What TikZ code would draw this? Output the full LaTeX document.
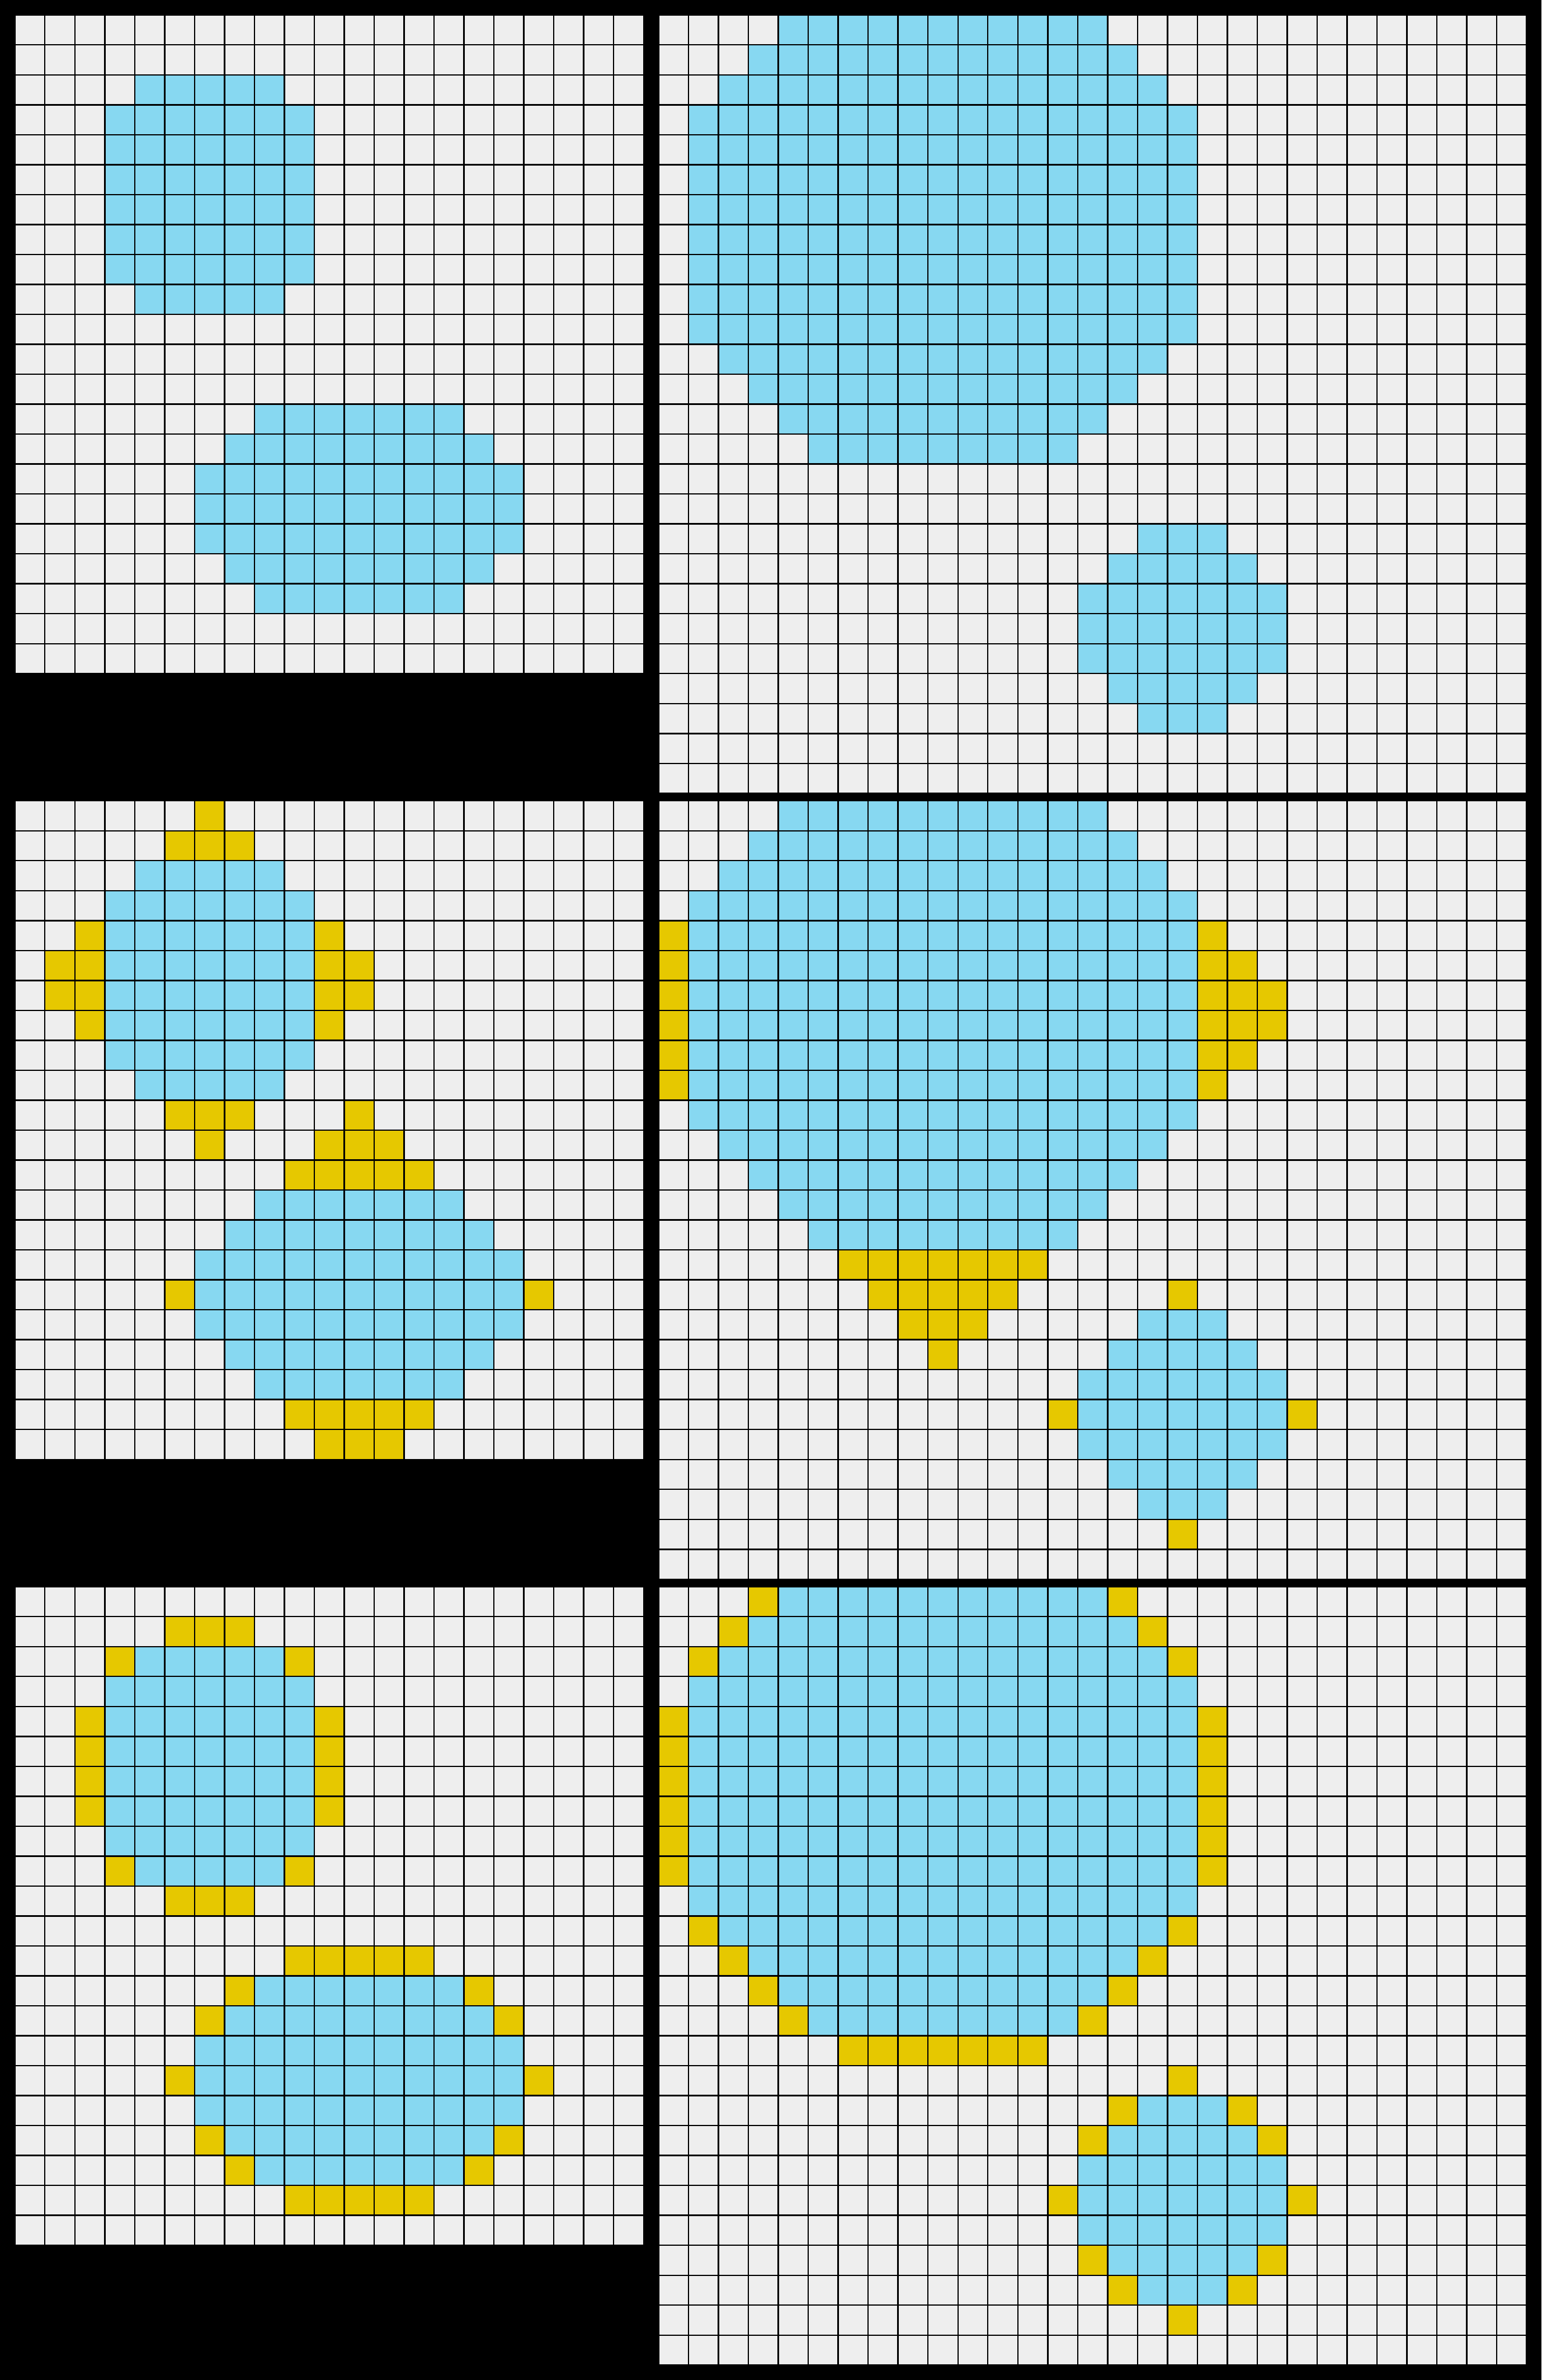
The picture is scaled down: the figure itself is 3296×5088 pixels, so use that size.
\documentclass[tikz,border=0pt]{standalone}
\definecolor{cellbg}{HTML}{EEEEEE}
\definecolor{cblue}{HTML}{87D8F1}
\definecolor{cyel}{HTML}{E6C800}
\tikzset{gline/.style={black,line width=3pt}}
\newcommand{\cellsof}[2]{%
  \foreach \r/\a/\b in {#2} \fill[#1] ({\a*64},{\r*64}) rectangle ({(\b+1)*64},{(\r+1)*64});}
\newcommand{\panelbg}[2]{\fill[cellbg] (0,0) rectangle ({#1*64},{#2*64});}
\newcommand{\panellines}[2]{%
  \foreach \i in {0,...,#1} \draw[gline] ({\i*64},0) -- ({\i*64},{#2*64});
  \foreach \j in {0,...,#2} \draw[gline] (0,{\j*64}) -- ({#1*64},{\j*64});}
\newcommand{\blueA}{2/4/8,3/3/9,4/3/9,5/3/9,6/3/9,7/3/9,8/3/9,9/4/8,13/8/14,14/7/15,15/6/16,16/6/16,17/6/16,18/7/15,19/8/14}
\newcommand{\blueB}{0/4/14,1/3/15,2/2/16,3/1/17,4/1/17,5/1/17,6/1/17,7/1/17,8/1/17,9/1/17,10/1/17,11/2/16,12/3/15,13/4/14,14/5/13,17/16/18,18/15/19,19/14/20,20/14/20,21/14/20,22/15/19,23/16/18}
\begin{document}
\begin{tikzpicture}[x=1pt,y=-1pt]
\useasboundingbox (0,0) rectangle (3296,5088);
\fill[black] (0,0) rectangle (3296,5088);
% ---- pair 1 ----
\begin{scope}[shift={(32,32)}]
  \panelbg{21}{22}
  \expandafter\cellsof\expandafter{\expandafter c\expandafter b\expandafter l\expandafter u\expandafter e\expandafter}\expandafter{\blueA}
  \panellines{21}{22}
\end{scope}
\begin{scope}[shift={(1408,32)}]
  \panelbg{29}{26}
  \foreach \r/\a/\b in \blueB \fill[cblue] ({\a*64},{\r*64}) rectangle ({(\b+1)*64},{(\r+1)*64});
  \panellines{29}{26}
\end{scope}
% ---- pair 2 ----
\begin{scope}[shift={(32,1712)}]
  \panelbg{21}{22}
  \foreach \r/\a/\b in \blueA \fill[cblue] ({\a*64},{\r*64}) rectangle ({(\b+1)*64},{(\r+1)*64});
  \cellsof{cyel}{0/6/6,1/5/7,4/2/2,4/10/10,5/1/2,5/10/11,6/1/2,6/10/11,7/2/2,7/10/10,10/5/7,10/11/11,11/6/6,11/10/12,12/9/13,16/5/5,16/17/17,20/9/13,21/10/12}
  \panellines{21}{22}
\end{scope}
\begin{scope}[shift={(1408,1712)}]
  \panelbg{29}{26}
  \foreach \r/\a/\b in \blueB \fill[cblue] ({\a*64},{\r*64}) rectangle ({(\b+1)*64},{(\r+1)*64});
  \cellsof{cyel}{4/0/0,5/0/0,6/0/0,7/0/0,8/0/0,9/0/0,4/18/18,5/18/19,6/18/20,7/18/20,8/18/19,9/18/18,15/6/12,16/7/11,16/17/17,17/8/10,18/9/9,20/13/13,20/21/21,24/17/17}
  \panellines{29}{26}
\end{scope}
% ---- pair 3 ----
\begin{scope}[shift={(32,3392)}]
  \panelbg{21}{22}
  \foreach \r/\a/\b in \blueA \fill[cblue] ({\a*64},{\r*64}) rectangle ({(\b+1)*64},{(\r+1)*64});
  \cellsof{cyel}{1/5/7,2/3/3,2/9/9,4/2/2,5/2/2,6/2/2,7/2/2,4/10/10,5/10/10,6/10/10,7/10/10,9/3/3,9/9/9,10/5/7,12/9/13,13/7/7,13/15/15,14/6/6,14/16/16,16/5/5,16/17/17,18/6/6,18/16/16,19/7/7,19/15/15,20/9/13}
  \panellines{21}{22}
\end{scope}
\begin{scope}[shift={(1408,3392)}]
  \panelbg{29}{26}
  \foreach \r/\a/\b in \blueB \fill[cblue] ({\a*64},{\r*64}) rectangle ({(\b+1)*64},{(\r+1)*64});
  \cellsof{cyel}{0/3/3,0/15/15,1/2/2,1/16/16,2/1/1,2/17/17,4/0/0,5/0/0,6/0/0,7/0/0,8/0/0,9/0/0,4/18/18,5/18/18,6/18/18,7/18/18,8/18/18,9/18/18,11/1/1,11/17/17,12/2/2,12/16/16,13/3/3,13/15/15,14/4/4,14/14/14,15/6/12,16/17/17,17/15/15,17/19/19,18/14/14,18/20/20,20/13/13,20/21/21,22/14/14,22/20/20,23/15/15,23/19/19,24/17/17}
  \panellines{29}{26}
\end{scope}
\end{tikzpicture}
\end{document}
